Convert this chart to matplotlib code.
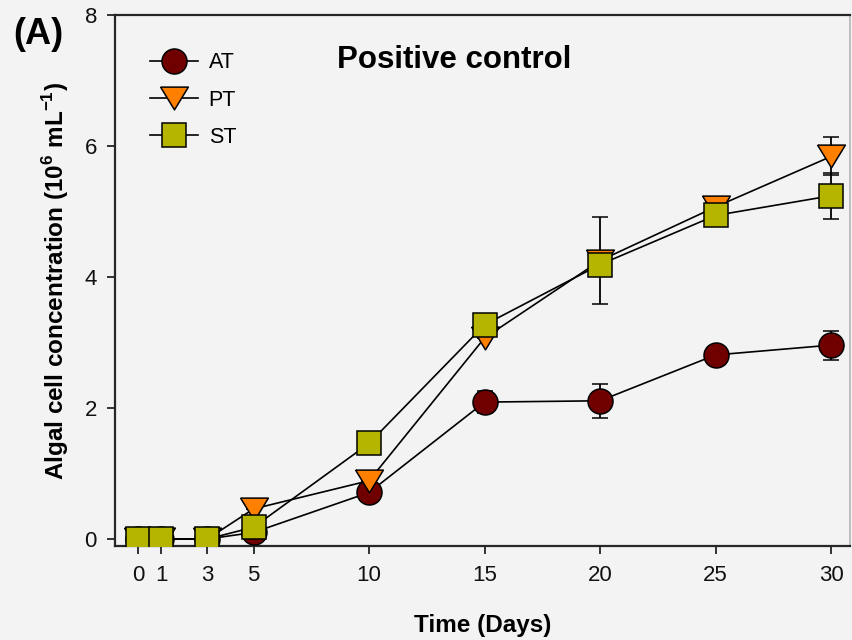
import matplotlib
matplotlib.use("Agg")
import matplotlib.pyplot as plt
from matplotlib.lines import Line2D
import numpy as np

plt.rcParams['font.family'] = ['Liberation Sans', 'DejaVu Sans']

# Sampling days and mean algal cell concentrations (10^6 cells/mL)
days = [0, 1, 3, 5, 10, 15, 20, 25, 30]
at_mean = [0.0, 0.0, 0.0, 0.10, 0.71, 2.09, 2.11, 2.81, 2.96]
pt_mean = [0.0, 0.0, 0.0, 0.46, 0.89, 3.07, 4.25, 5.07, 5.84]
st_mean = [0.0, 0.0, 0.0, 0.18, 1.46, 3.27, 4.19, 4.94, 5.24]

# Standard deviations
at_err = [0.0, 0.0, 0.0, 0.0, 0.0, 0.17, 0.26, 0.0, 0.22]
pt_err = [0.0, 0.0, 0.0, 0.0, 0.0, 0.0, 0.66, 0.0, 0.29]
st_err = [0.0, 0.0, 0.0, 0.0, 0.0, 0.0, 0.0, 0.0, 0.35]

labels = ["AT", "PT", "ST"]
x_ticks = [0, 1, 3, 5, 10, 15, 20, 25, 30]
y_ticks = [0, 2, 4, 6, 8]

bg = "#f3f3f3"
W, H = 853, 640
fig = plt.figure(figsize=(W / 100, H / 100), dpi=100, facecolor=bg)
ax = fig.add_axes([115 / W, 1 - 546 / H, (850 - 115) / W, (546 - 15) / H])
ax.set_facecolor(bg)

# downward triangle, slightly flatter than the stock 'v'
tri = [(-1.0, 0.82), (1.0, 0.82), (0.0, -0.82), (-1.0, 0.82)]

styles = [
    dict(marker="o", ms=18, mfc="#700000"),
    dict(marker=tri, ms=20, mfc="#ff7f00"),
    dict(marker="s", ms=17, mfc="#b5b500"),
]
series = [(at_mean, at_err), (pt_mean, pt_err), (st_mean, st_err)]

handles = []
for (m, e), st, lab, z in zip(series, styles, labels, [3, 4, 5]):
    ax.errorbar(days, m, yerr=e, color="black", lw=1.2, elinewidth=1.3,
                capsize=6, capthick=1.3, mec="black", mew=1.1,
                zorder=z, **st)
    handles.append(Line2D([], [], color="black", lw=1.2, mec="black",
                          mew=1.1, label=lab, **st))

ax.set_xlim(-1.0, 30.82)
ax.set_ylim(-0.107, 8)
ax.set_xticks(x_ticks)
ax.set_yticks(y_ticks)
ax.tick_params(axis="both", direction="out", length=6, width=1.3,
               colors="#222222", labelsize=16, labelcolor="#111111")
ax.tick_params(axis="x", pad=8)
ax.tick_params(axis="y", pad=7)

for s in ["left", "bottom", "top"]:
    ax.spines[s].set_linewidth(1.6)
    ax.spines[s].set_color("#262626")
ax.spines["right"].set_color("#b4b4b4")
ax.spines["right"].set_linewidth(1.2)

ax.set_xlabel("Time (Days)", fontsize=17.5, fontweight="bold", labelpad=20)
ax.set_ylabel(r"Algal cell concentration (10$^{\mathregular{6}}$ mL$^{\mathregular{-1}}$)",
              fontsize=17.5, fontweight="bold", labelpad=10)

ax.text(0.461, 0.915, "Positive control", transform=ax.transAxes,
        fontsize=22.5, fontweight="bold", ha="center", va="center")
fig.text(38 / W, 1 - 35 / H, "(A)", fontsize=26, fontweight="bold",
         ha="center", va="center")

leg = ax.legend(handles=handles, loc="upper left", bbox_to_anchor=(0.047, 0.93),
                frameon=False, fontsize=15.5, handlelength=2.25, handletextpad=0.5,
                labelspacing=0.76, borderpad=0, borderaxespad=0)

fig.savefig("out.png", dpi=100, facecolor=bg)
